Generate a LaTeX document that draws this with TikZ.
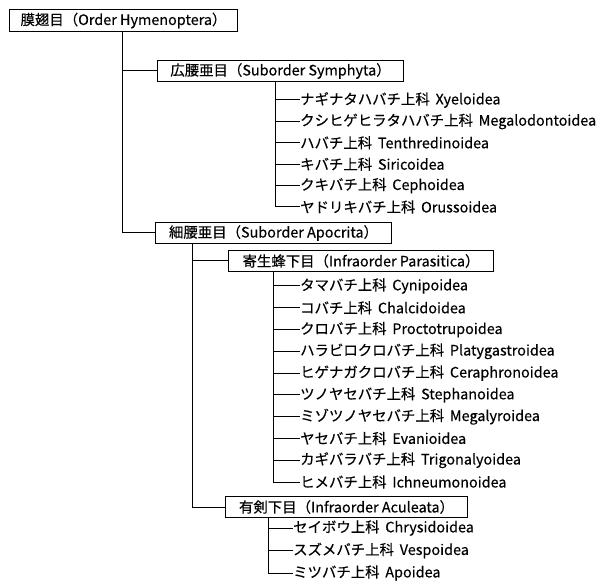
\documentclass[tikz,border=0pt]{standalone}
\usepackage{fontspec}
\setmainfont{Noto Sans CJK JP}[FakeBold=0.3]
\newcommand\jlgap{\hspace{0.4em}}
\begin{document}
\begin{tikzpicture}[x=1pt,y=-1pt,
  font=\fontsize{14.4}{16}\selectfont,
  taxbox/.style={draw, line width=1pt, anchor=north west, inner sep=0pt, minimum height=21pt},
  leaf/.style={anchor=west, inner xsep=0pt, inner ysep=0pt},
  link/.style={line width=1pt}]
\useasboundingbox (0,0) rectangle (598,583);

% boxes
\node[taxbox, minimum width=228pt, minimum height=22pt] (ord) at (9,9) {膜翅目（Order Hymenoptera）};
\node[taxbox, minimum width=246pt] (sym) at (157,60) {広腰亜目（Suborder Symphyta）};
\node[taxbox, minimum width=236pt] (apo) at (155,222) {細腰亜目（Suborder Apocrita）};
\node[taxbox, minimum width=265pt] (par) at (228,250) {寄生蜂下目（Infraorder Parasitica）};
\node[taxbox, minimum width=242pt] (acu) at (225,496) {有剣下目（Infraorder Aculeata）};

% Symphyta leaves
\node[leaf] (s1) at (300,100.0) {ナギナタハバチ上科\jlgap Xyeloidea};
\node[leaf] (s2) at (300,121.4) {クシヒゲヒラタハバチ上科\jlgap Megalodontoidea};
\node[leaf] (s3) at (300,142.8) {ハバチ上科\jlgap Tenthredinoidea};
\node[leaf] (s4) at (300,164.2) {キバチ上科\jlgap Siricoidea};
\node[leaf] (s5) at (300,185.6) {クキバチ上科\jlgap Cephoidea};
\node[leaf] (s6) at (300,207.0) {ヤドリキバチ上科\jlgap Orussoidea};

% Parasitica leaves
\node[leaf] (p1) at (300,286.0) {タマバチ上科\jlgap Cynipoidea};
\node[leaf] (p2) at (300,307.8) {コバチ上科\jlgap Chalcidoidea};
\node[leaf] (p3) at (300,329.6) {クロバチ上科\jlgap Proctotrupoidea};
\node[leaf] (p4) at (300,351.3) {ハラビロクロバチ上科\jlgap Platygastroidea};
\node[leaf] (p5) at (300,373.1) {ヒゲナガクロバチ上科\jlgap Ceraphronoidea};
\node[leaf] (p6) at (300,394.9) {ツノヤセバチ上科\jlgap Stephanoidea};
\node[leaf] (p7) at (300,416.7) {ミゾツノヤセバチ上科\jlgap Megalyroidea};
\node[leaf] (p8) at (300,438.4) {ヤセバチ上科\jlgap Evanioidea};
\node[leaf] (p9) at (300,460.2) {カギバラバチ上科\jlgap Trigonalyoidea};
\node[leaf] (p10) at (300,482.0) {ヒメバチ上科\jlgap Ichneumonoidea};

% Aculeata leaves
\node[leaf] (a1) at (293,528.0) {セイボウ上科\jlgap Chrysidoidea};
\node[leaf] (a2) at (293,550.5) {スズメバチ上科\jlgap Vespoidea};
\node[leaf] (a3) at (293,573.0) {ミツバチ上科\jlgap Apoidea};

% spines
\coordinate (ordspine) at (122,31);
\coordinate (symspine) at (275,81);
\coordinate (apospine) at (192,243);
\coordinate (parspine) at (273,272);
\coordinate (acuspine) at (268,517);

% order level
\draw[link] (ordspine) |- (apo.west);
\draw[link] (sym.west) -- (sym.west -| ordspine);

% Symphyta
\draw[link] (symspine) |- (s6.west);
\foreach \n in {s1,s2,s3,s4,s5} \draw[link] (\n.west) -- (\n.west -| symspine);

% Apocrita
\draw[link] (apospine) |- (acu.west);
\draw[link] (par.west) -- (par.west -| apospine);

% Parasitica
\draw[link] (parspine) |- (p10.west);
\foreach \n in {p1,p2,p3,p4,p5,p6,p7,p8,p9} \draw[link] (\n.west) -- (\n.west -| parspine);

% Aculeata
\draw[link] (acuspine) |- (a3.west);
\foreach \n in {a1,a2} \draw[link] (\n.west) -- (\n.west -| acuspine);
\end{tikzpicture}
\end{document}
